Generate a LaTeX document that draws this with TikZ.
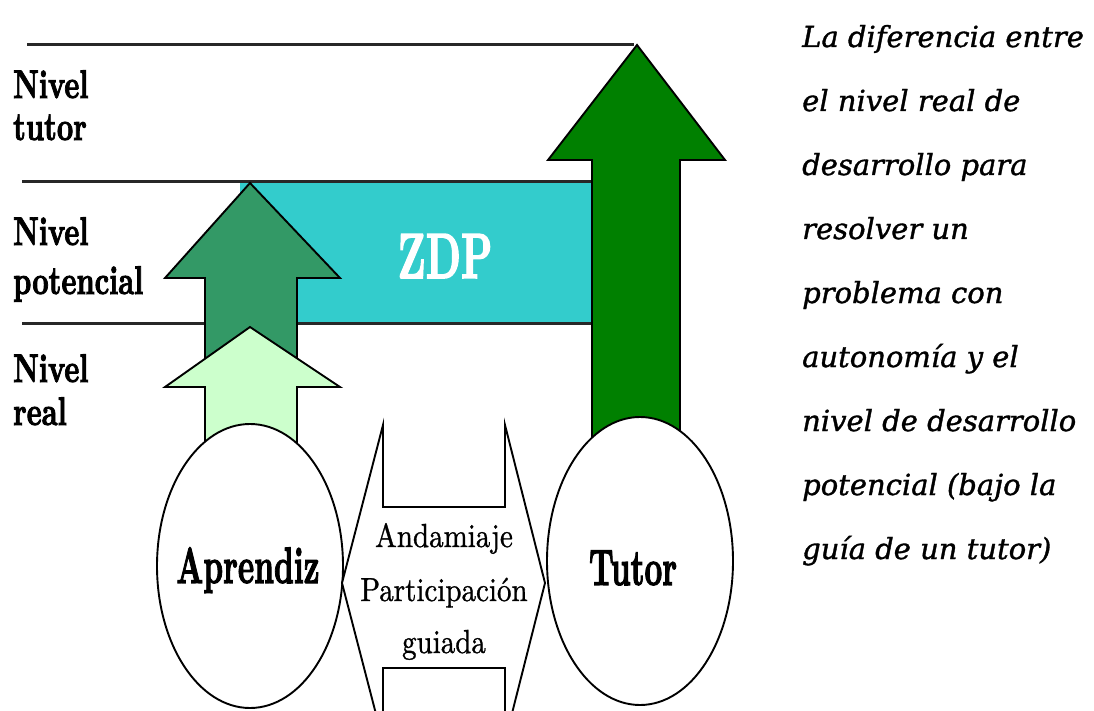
\documentclass[tikz,border=0pt]{standalone}
\usepackage{fontspec}
\usepackage{graphicx}
\usetikzlibrary{shapes.geometric}
\newfontfamily\descfont{DejaVu Serif}[FakeBold=1.2]
\newfontfamily\lmbold{lmroman10-bold}[Extension=.otf, FakeBold=2.5]
\newfontfamily\lmreg{lmroman10-regular}[Extension=.otf, FakeBold=1]
\newcommand{\tallText}[2]{\scalebox{1}[#1]{#2}}
\definecolor{zdpcyan}{RGB}{51,204,204}
\definecolor{potgreen}{RGB}{51,153,102}
\definecolor{realgreen}{RGB}{204,255,204}
\definecolor{tutgreen}{RGB}{0,128,0}
\definecolor{linegray}{RGB}{40,40,40}
\tikzset{
  levelline/.style={draw=linegray, line width=3pt},
  arrowshape/.style={draw=black, line width=1.9pt, line join=miter},
  blob/.style={ellipse, draw=black, line width=1.9pt, fill=white, inner sep=0pt},
  lvllabel/.style={anchor=base west, inner sep=0pt, font=\fontsize{28.5pt}{28.5pt}\lmbold},
  midlabel/.style={anchor=base, inner sep=0pt, font=\fontsize{29pt}{29pt}\lmreg},
  biglabel/.style={anchor=base, inner sep=0pt, font=\fontsize{31pt}{31pt}\lmbold},
  desc/.style={anchor=base west, inner sep=0pt, font=\fontsize{29pt}{29pt}\descfont\itshape}
}
\begin{document}
\begin{tikzpicture}[x=1pt,y=-1pt]
\useasboundingbox (0,0) rectangle (1094,711);
\clip (0,0) rectangle (1094,711);
\fill[white] (0,0) rectangle (1094,711);

% cyan ZDP band
\fill[zdpcyan] (240,182) rectangle (592,323);

% level lines
\coordinate (l1a) at (27,45);  \coordinate (l1b) at (634,45);
\coordinate (l2a) at (22,182); \coordinate (l2b) at (594,182);
\coordinate (l3a) at (22,323); \coordinate (l3b) at (594,323);
\draw[levelline] (l1a) -- (l1b);
\draw[levelline] (l2a) -- (l2b);
\draw[levelline] (l3a) -- (l3b);

% arrows
\draw[arrowshape, fill=potgreen] (250,183) -- (340,278) -- (297,278) -- (297,400) -- (205,400) -- (205,278) -- (165,278) -- cycle;
\draw[arrowshape, fill=realgreen] (250,327) -- (340,387) -- (297,387) -- (297,480) -- (205,480) -- (205,387) -- (165,387) -- cycle;
\draw[arrowshape, fill=tutgreen] (637,45) -- (725,160) -- (680,160) -- (680,480) -- (592,480) -- (592,160) -- (548,160) -- cycle;

% learner and tutor
\node[blob, minimum width=186pt, minimum height=284pt] (apr) at (250,566) {};
\node[blob, minimum width=186pt, minimum height=288pt] (tut) at (640,561) {};

% scaffolding double arrow
\draw[arrowshape, fill=white] (342,583) -- (383,425) -- (383,507) -- (505,507) -- (505,425) -- (545,583) -- (505,741) -- (505,668) -- (383,668) -- (383,741) -- cycle;

% texts
\node[biglabel] (aprt) at (248,583) {\tallText{1.65}{Aprendiz}};
\node[biglabel] (tutt) at (633,585) {\tallText{1.65}{Tutor}};
\node[biglabel, text=white, font=\fontsize{40pt}{40pt}\lmbold] (zdp) at (445,278) {\tallText{1.6}{ZDP}};

\node[midlabel] (m1) at (444,547) {\tallText{1.15}{Andamiaje}};
\node[midlabel] (m2) at (444,601) {\tallText{1.15}{Participación}};
\node[midlabel] (m3) at (444,653) {\tallText{1.15}{guiada}};

\node[lvllabel] (n1) at (13,98)  {\tallText{1.4}{Nivel}};
\node[lvllabel] (t1) at (13,140) {\tallText{1.4}{tutor}};
\node[lvllabel] (n2) at (13,245) {\tallText{1.4}{Nivel}};
\node[lvllabel] (t2) at (13,294) {\tallText{1.4}{potencial}};
\node[lvllabel] (n3) at (13,382) {\tallText{1.4}{Nivel}};
\node[lvllabel] (t3) at (13,425) {\tallText{1.4}{real}};

\foreach \i/\t in {0/{La diferencia entre},1/{el nivel real de},2/{desarrollo para},3/{resolver un},4/{problema con},5/{autonomía y el},6/{nivel de desarrollo},7/{potencial (bajo la},8/{guía de un tutor)}}{
  \node[desc] (d\i) at (802,47+64*\i) {\t};
}
\end{tikzpicture}
\end{document}
